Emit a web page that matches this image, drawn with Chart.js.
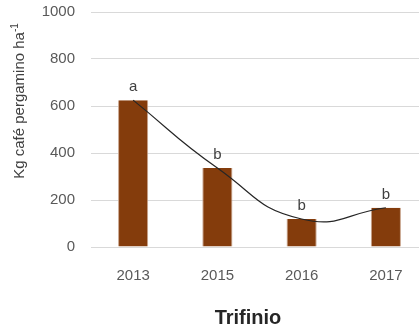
<!DOCTYPE html>
<html>
<head>
<meta charset="utf-8">
<script src="https://cdn.jsdelivr.net/npm/chart.js@4.4.1/dist/chart.umd.min.js"></script>
<style>
    html, body { margin: 0; padding: 0; background: #fff; overflow: hidden; }
    #wrap { width: 419px; height: 329px; overflow: hidden; }
</style>
</head>
<body>
<div id="wrap"><canvas id="chart" width="428" height="329"></canvas></div>
<script>
// -----------------------------
// Données
// -----------------------------
const years = ["2013", "2015", "2016", "2017"];
const yields = [625, 336, 119, 167];
const letters = ["a", "b", "b", "b"];
const yTicks = [0, 200, 400, 600, 800, 1000];

const labelFont = "'Liberation Sans', Arial, sans-serif";

// -----------------------------
// Plugin : titres + lettres
// -----------------------------
const decorations = {
    id: "decorations",
    afterDatasetsDraw(chart) {
        const ctx = chart.ctx;

        // lettres au-dessus des barres
        const bars = chart.getDatasetMeta(1).data;
        ctx.save();
        ctx.fillStyle = "#404040";
        ctx.font = "15px " + labelFont;
        ctx.textAlign = "center";
        ctx.textBaseline = "alphabetic";
        bars.forEach((bar, i) => {
            ctx.fillText(letters[i], bar.x, bar.y - 9);
        });
        ctx.restore();

        // titre axe Y (avec exposant)
        ctx.save();
        ctx.translate(20, 101);
        ctx.rotate(-Math.PI / 2);
        ctx.fillStyle = "#404040";
        ctx.textBaseline = "middle";
        const main = "Kg café pergamino ha";
        ctx.font = "10px " + labelFont;
        const supW = ctx.measureText("-1").width;
        ctx.font = "15px " + labelFont;
        const mainW = ctx.measureText(main).width;
        const x0 = -(mainW + supW) / 2;
        ctx.textAlign = "left";
        ctx.fillText(main, x0, 0);
        ctx.font = "10px " + labelFont;
        ctx.fillText("-1", x0 + mainW, -5);
        ctx.restore();

        // titre axe X
        ctx.save();
        ctx.fillStyle = "#262626";
        ctx.font = "bold 20px " + labelFont;
        ctx.textAlign = "center";
        ctx.textBaseline = "middle";
        ctx.fillText("Trifinio", 248, 318);
        ctx.restore();
    }
};

// -----------------------------
// Graphique
// -----------------------------
new Chart(document.getElementById("chart"), {
    data: {
        labels: years,
        datasets: [
            {
                type: "line",
                data: yields,
                borderColor: "#262626",
                borderWidth: 1.2,
                pointRadius: 0,
                tension: 0.5,
                fill: false,
                order: 0
            },
            {
                type: "bar",
                data: yields,
                backgroundColor: "#843C0C",
                borderColor: "#C9A58E",
                borderWidth: { left: 1, right: 1, top: 0, bottom: 0 },
                categoryPercentage: 1,
                barPercentage: 0.358,
                order: 1
            }
        ]
    },
    options: {
        responsive: false,
        animation: false,
        layout: { padding: 0 },
        plugins: {
            legend: { display: false },
            tooltip: { enabled: false }
        },
        scales: {
            x: {
                grid: { display: false },
                border: { display: false },
                ticks: {
                    color: "#595959",
                    font: { size: 15, family: labelFont },
                    padding: 12
                },
                afterFit(scale) { scale.height = 329 - 247; }
            },
            y: {
                min: 0,
                max: 1000,
                afterBuildTicks(scale) {
                    scale.ticks = yTicks.map(v => ({ value: v }));
                },
                grid: { color: "#D9D9D9", lineWidth: 1, drawTicks: false },
                border: { display: false },
                ticks: {
                    color: "#595959",
                    font: { size: 15, family: labelFont },
                    padding: 16,
                    callback: v => String(v)
                },
                afterFit(scale) {
                    scale.width = 91;
                    scale.paddingTop = 12;
                    scale.paddingBottom = 0;
                }
            }
        }
    },
    plugins: [decorations]
});
</script>
</body>
</html>
